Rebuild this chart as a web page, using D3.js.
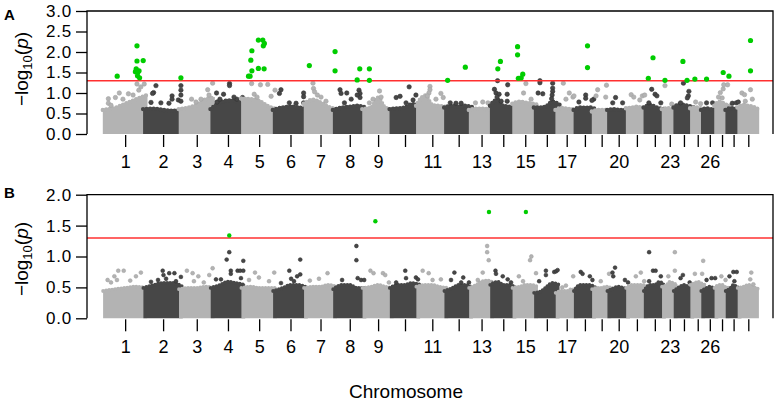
<!DOCTYPE html>
<html>
<head>
<meta charset="utf-8">
<script src="https://cdn.jsdelivr.net/npm/d3@7"></script>
<style>
  html, body { margin: 0; padding: 0; background: #fff; }
  svg { display: block; font-family: "Liberation Sans", Arial, sans-serif; }
</style>
</head>
<body>
<div id="chart"></div>
<script>
// chromosomes and their lengths (Mb)
const chromosomes = [1,2,3,4,5,6,7,8,9,10,11,12,13,14,15,16,17,18,19,20,21,22,23,24,25,26,27,28,29];
const chrLengths = [155,137,122,118,122,119,112,113,105,102,108,95,81,86,83,83,70,70,59,72,68,70,45,64,42,51,43,46,67];
const labeledChr = [1,2,3,4,5,6,7,8,9,11,13,15,17,20,23,26];

const threshold = 1.3;
const yTicksA = [0, 0.5, 1, 1.5, 2, 2.5, 3];
const yTicksB = [0, 0.5, 1, 1.5, 2];

// top of the dense SNP cloud, sampled evenly along each chromosome
const bulkA = [
  [0.6,0.65,0.75,0.85,0.97],[0.62,0.63,0.6,0.58,0.6],[0.62,0.66,0.72,0.85,0.9],[0.62,0.78,0.83,0.82,0.68],
  [0.88,0.86,0.82,0.7,0.62],[0.6,0.66,0.68,0.66,0.62],[0.75,0.85,0.78,0.68,0.62],[0.6,0.66,0.68,0.7,0.65],
  [0.62,0.66,0.9,0.66,0.6],[0.62,0.64,0.66,0.74,0.72],[0.7,0.95,0.72,0.7,0.66],[0.66,0.7,0.68,0.7,0.66],
  [0.6,0.63,0.63,0.62,0.6],[0.7,0.85,0.7,0.68,0.66],[0.75,0.8,0.78,0.76,0.72],[0.66,0.66,0.7,0.8,0.72],
  [0.6,0.65,0.63,0.62,0.6],[0.6,0.66,0.65,0.66,0.62],[0.56,0.6,0.6,0.6,0.58],[0.6,0.62,0.6,0.6,0.58],
  [0.64,0.66,0.68,0.66,0.64],[0.66,0.72,0.68,0.64,0.62],[0.62,0.64,0.64,0.6,0.6],[0.66,0.74,0.72,0.7,0.66],
  [0.64,0.66,0.66,0.64,0.62],[0.6,0.64,0.62,0.62,0.58],[0.7,0.8,0.78,0.74,0.7],[0.6,0.64,0.64,0.62,0.6],
  [0.66,0.72,0.7,0.68,0.6]
];
const bulkB = [
  [0.45,0.48,0.5,0.52,0.5],[0.5,0.55,0.58,0.58,0.52],[0.48,0.5,0.5,0.52,0.5],[0.5,0.55,0.6,0.58,0.55],
  [0.5,0.52,0.5,0.5,0.5],[0.45,0.5,0.55,0.55,0.5],[0.5,0.52,0.52,0.55,0.52],[0.48,0.55,0.55,0.5,0.5],
  [0.5,0.52,0.55,0.52,0.5],[0.5,0.55,0.55,0.58,0.55],[0.52,0.55,0.55,0.52,0.5],[0.45,0.5,0.55,0.55,0.5],
  [0.5,0.55,0.6,0.62,0.58],[0.55,0.6,0.55,0.55,0.5],[0.5,0.52,0.55,0.55,0.52],[0.42,0.45,0.52,0.58,0.55],
  [0.42,0.45,0.45,0.48,0.45],[0.45,0.55,0.55,0.55,0.5],[0.48,0.5,0.5,0.52,0.5],[0.45,0.5,0.52,0.5,0.48],
  [0.5,0.55,0.55,0.55,0.52],[0.45,0.55,0.55,0.6,0.5],[0.52,0.55,0.6,0.58,0.55],[0.45,0.52,0.55,0.52,0.48],
  [0.55,0.58,0.6,0.58,0.55],[0.45,0.5,0.52,0.5,0.48],[0.5,0.55,0.55,0.52,0.5],[0.45,0.5,0.55,0.52,0.48],
  [0.5,0.52,0.55,0.52,0.48]
];

// [chromosome, position (Mb), -log10(p)]
const grayA = [
  [1,13,0.86],[1,13,0.75],[1,40,0.89],[1,55,1.0],[1,90,0.98],[1,123,1.22],[1,130,1.07],[1,151,1.22],[1,138,1.15],[1,69,0.85],[1,108,0.95],[1,23,0.7],
  [2,41,1.18],[2,32,1.01],[2,28,0.99],[2,22,0.77],[2,103,0.93],[2,103,0.85],[2,127,0.83],[2,137,1.18],[2,137,1.07],[2,137,0.95],[2,137,0.8],[2,91,0.75],[2,60,0.76],
  [3,41,0.85],[3,103,1.08],[3,122,1.24],[3,108,0.95],[3,77,0.85],[3,58,0.78],
  [4,15,1.0],[4,17,0.78],[4,42,0.97],[4,65,1.23],[4,65,1.18],[4,115,0.89],[4,93,0.85],[4,82,0.9],[4,28,0.85],
  [5,32,1.23],[5,42,0.97],[5,66,1.2],[5,94,1.21],[5,122,1.07],[5,53,0.9],[5,107,0.92],
  [6,23,1.08],[6,17,0.99],[6,55,0.76],[6,110,1.0],[6,110,0.91],[6,110,0.76],[6,81,0.75],
  [7,27,1.24],[7,29,1.11],[7,33,1.03],[7,44,0.95],[7,58,0.9],[7,77,0.8],
  [8,19,1.08],[8,23,0.99],[8,45,1.0],[8,36,0.76],[8,92,1.07],[8,96,0.99],[8,96,0.89],[8,85,0.95],[8,62,0.85],
  [9,58,1.05],[9,19,0.76],[9,64,0.9],[9,33,0.85],
  [10,67,1.15],[10,17,0.89],[10,32,0.92],[10,55,0.76],[10,93,0.95],[10,82,0.83],
  [11,45,1.16],[11,45,1.08],[11,41,1.0],[11,35,0.93],[11,87,0.99],[11,96,0.89],[11,68,0.85],
  [12,15,0.76],[12,37,0.75],[12,57,0.75],
  [13,17,0.76],[13,45,0.78],[13,65,0.76],
  [14,21,1.3],[14,9,1.09],[14,15,1.0],[14,27,0.97],[14,19,0.9],[14,60,1.2],[14,58,0.97],[14,58,0.8],[14,35,0.8],
  [15,44,1.23],[15,35,1.0],[15,64,0.85],
  [16,15,1.3],[16,15,1.25],[16,8,1.0],[16,26,0.98],[16,64,1.24],[16,64,1.12],[16,64,1.04],[16,62,0.95],[16,60,0.86],
  [17,22,1.24],[17,45,1.0],[17,32,0.85],[17,59,0.9],[17,63,0.93],
  [18,38,0.95],[18,38,0.87],[18,69,0.85],[18,62,0.82],[18,12,0.78],
  [19,14,1.08],[19,48,1.19],[19,45,0.9],[19,8,0.93],
  [20,24,0.89],[20,13,0.76],[20,51,0.76],
  [21,12,0.96],[21,22,0.9],[21,55,0.93],[21,64,0.95],[21,45,0.83],
  [22,23,1.09],[22,36,0.97],[22,43,0.93],[22,12,0.76],[22,58,0.76],
  [23,4,1.18],[23,30,0.73],
  [24,30,1.24],[24,51,1.04],[24,49,0.93],[24,45,0.88],[24,19,0.76],
  [25,13,0.78],[25,32,0.74],
  [26,13,0.76],[26,36,0.76],
  [27,15,1.01],[27,26,1.1],[27,28,1.2],[27,22,0.88],[27,8,0.9],[27,43,1.2],
  [28,18,0.75],[28,33,0.76],[28,41,0.78],
  [29,9,1.0],[29,19,0.96],[29,42,1.08],[29,22,0.8],[29,49,0.85]
];
const sigA = [
  [1,47,1.41],[1,123,2.15],[1,123,1.78],[1,147,1.79],[1,120,1.59],[1,131,1.54],[1,117,1.52],[1,125,1.42],[1,133,1.37],[1,126,1.5],
  [2,137,1.37],
  [5,20,1.41],[5,26,1.41],[5,33,1.54],[5,29,1.8],[5,33,2.03],[5,58,2.29],[5,75,2.29],[5,81,2.21],[5,77,2.15],[5,58,1.6],[5,80,1.59],
  [7,13,1.67],
  [8,0,2.01],[8,0,1.54],[8,85,1.32],[8,95,1.59],
  [9,19,1.59],[9,19,1.31],
  [12,5,1.31],[12,73,1.63],
  [14,22,1.59],[14,32,1.77],
  [15,12,2.13],[15,12,1.93],[15,15,1.36],[15,26,1.37],[15,32,1.46],
  [18,45,2.15],[18,45,1.62],
  [22,10,1.36],[22,28,1.86],
  [23,4,1.31],
  [24,28,1.77],[24,44,1.31],
  [25,10,1.34],
  [26,13,1.34],
  [27,26,1.5],
  [28,5,1.41],
  [29,42,2.28],[29,42,1.54]
];

const grayB = [
  [1,10,0.62],[1,36,0.68],[1,51,0.77],[1,72,0.77],[1,97,0.61],[1,119,0.68],[1,138,0.74],[1,46,0.62],[1,23,0.58],
  [2,22,0.59],[2,67,0.77],[2,70,0.7],[2,92,0.73],[2,112,0.73],[2,137,0.67],[2,49,0.62],[2,118,0.6],[2,80,0.64],
  [3,23,0.77],[3,45,0.73],[3,67,0.68],[3,109,0.7],[3,122,0.81],[3,50,0.6],[3,88,0.58],
  [4,64,1.07],[4,54,0.95],[4,118,0.93],[4,70,0.77],[4,70,0.72],[4,96,0.77],[4,106,0.77],[4,118,0.77],[4,13,0.63],[4,32,0.63],[4,109,0.65],
  [5,45,0.74],[5,22,0.62],[5,60,0.66],[5,119,0.74],[5,99,0.6],
  [6,23,0.57],[6,55,0.77],[6,97,0.95],[6,97,0.71],[6,62,0.64],[6,73,0.6],[6,85,0.68],
  [7,15,0.61],[7,50,0.64],[7,83,0.73],
  [8,82,1.17],[8,82,0.94],[8,87,0.65],[8,100,0.62],[8,112,0.62],[8,27,0.62],
  [9,23,0.77],[9,35,0.73],[9,71,0.73],[9,80,0.7],[9,94,0.58],
  [10,52,0.77],[10,55,0.65],[10,93,0.66],[10,101,0.63],[10,17,0.58],
  [11,17,0.77],[11,40,0.73],[11,55,0.62],[11,87,0.63],
  [12,31,0.74],[12,65,0.66],[12,18,0.62],[12,57,0.58],[12,87,0.58],
  [13,62,1.17],[13,62,1.07],[13,68,0.94],[13,45,0.74],[13,26,0.62],
  [14,13,0.77],[14,15,0.72],[14,41,0.68],[14,60,0.63],[14,73,0.58],
  [15,17,0.68],[15,60,0.94],[15,65,1.0],[15,83,0.73],[15,33,0.6],
  [16,38,0.77],[16,38,0.7],[16,70,0.75],[16,77,0.76],[16,83,0.78],[16,12,0.6],
  [17,60,0.68],[17,32,0.53],[17,18,0.5],
  [18,19,0.75],[18,26,0.72],[18,54,0.68],[18,64,0.62],
  [19,58,0.72],[19,26,0.6],
  [20,12,0.74],[20,15,0.68],[20,22,0.82],[20,60,0.62],[20,72,0.58],
  [21,30,0.68],[21,49,0.74],[21,62,0.6],
  [22,13,1.07],[22,28,0.77],[22,38,0.77],[22,13,0.6],[22,58,0.68],
  [23,42,1.07],[23,42,0.77],[23,17,0.68],
  [24,28,0.7],[24,19,0.65],[24,54,0.58],
  [25,10,0.72],[25,42,0.93],[25,38,0.72],
  [26,13,0.62],[26,32,0.65],[26,46,0.65],
  [27,19,0.68],[27,35,0.62],
  [28,7,0.68],[28,22,0.75],[28,35,0.75],[28,26,0.6],
  [29,45,0.74],[29,41,0.63],[29,53,0.55]
];
const sigB = [[4,64,1.34],[9,42,1.57],[13,69,1.72],[15,44,1.72]];

const W = 778, H = 402;
const X_LEFT = 87, X_RIGHT = 773;
const LIGHT = "#b3b3b3", DARK = "#474747", GREEN = "#00cd00", RED = "#ff3030";

const cum = d3.cumsum(chrLengths);
const starts = chrLengths.map((_, i) => i ? cum[i - 1] : 0);
const total = cum[cum.length - 1];

const x = d3.scaleLinear().domain([0, total]).range([105, 757]);
const gx = (c, pos) => x(starts[c - 1] + pos);
const mids = chromosomes.map((c, i) => starts[i] + chrLengths[i] / 2);

const svg = d3.select("#chart").append("svg")
    .attr("width", W).attr("height", H);

const panels = [
    { id: "A", top: 11, bottom: 134, ymax: 3, ticks: yTicksA, bulk: bulkA, gray: grayA, sig: sigA,
      r: 2.2, sigR: 2.6, letterY: 20, ylabY: 69 },
    { id: "B", top: 194.7, bottom: 318.3, ymax: 2, ticks: yTicksB, bulk: bulkB, gray: grayB, sig: sigB,
      r: 1.9, sigR: 2.2, letterY: 198.3, ylabY: 259 }
];

panels.forEach(p => {
    const y = d3.scaleLinear().domain([0, p.ymax]).range([p.bottom, p.top]);
    const g = svg.append("g");

    // chromosome clouds, drawn in order so each one overlaps the previous
    chromosomes.forEach((c, i) => {
        const fill = c % 2 ? LIGHT : DARK;
        const stroke = c % 2 ? "#a2a2a2" : "#333";
        const prof = p.bulk[i];
        const n = prof.length;
        const pts = prof.map((h, j) => {
            let px = gx(c, chrLengths[i] * j / (n - 1));
            if (j === 0) px -= p.r;
            if (j === n - 1) px += p.r;
            return [px, h];
        });
        g.append("path")
            .datum(pts)
            .attr("d", d3.area().x(d => d[0]).y0(y(0)).y1(d => y(d[1])).curve(d3.curveMonotoneX))
            .style("fill", fill);

        // beaded top edge so the cloud reads as dots
        g.append("path")
            .datum(pts)
            .attr("d", d3.line().x(d => d[0]).y(d => y(d[1]) + 0.5).curve(d3.curveMonotoneX))
            .style("fill", "none")
            .style("stroke", fill)
            .style("stroke-width", p.r * 2)
            .style("stroke-linecap", "round")
            .style("stroke-dasharray", `0 ${p.r * 1.6}`);

        g.selectAll(null)
            .data(p.gray.filter(d => d[0] === c))
            .join("circle")
            .attr("cx", d => gx(d[0], d[1]))
            .attr("cy", d => y(d[2]))
            .attr("r", p.r)
            .style("fill", fill)
            .style("stroke", stroke)
            .style("stroke-width", 0.6);
    });

    // significance threshold
    g.append("line")
        .attr("x1", X_LEFT).attr("x2", X_RIGHT)
        .attr("y1", y(threshold)).attr("y2", y(threshold))
        .style("stroke", RED).style("stroke-width", 1.6);

    g.selectAll(null)
        .data(p.sig)
        .join("circle")
        .attr("cx", d => gx(d[0], d[1]))
        .attr("cy", d => y(d[2]))
        .attr("r", p.sigR)
        .style("fill", GREEN);

    // frame: left, top, right
    g.append("path")
        .attr("d", `M${X_LEFT},${y(0)}V${p.top}H${X_RIGHT}V${y(0)}`)
        .style("fill", "none").style("stroke", "#000").style("stroke-width", 1.3);

    const yAxis = d3.axisLeft(y).tickValues(p.ticks).tickSize(11).tickPadding(4)
        .tickFormat(d3.format(".1f"));
    g.append("g")
        .attr("transform", `translate(${X_LEFT},0)`)
        .call(yAxis)
        .call(a => a.select(".domain").remove())
        .call(a => a.selectAll("line").style("stroke", "#000").style("stroke-width", 1.3))
        .call(a => a.selectAll("text").style("font-size", "17px").style("fill", "#000")
            .style("letter-spacing", "0.8px")
            .style("font-family", "'Liberation Sans', Arial, sans-serif"));

    const xAxis = d3.axisBottom(x).tickValues(mids).tickSize(12).tickPadding(8.5)
        .tickFormat((d, i) => labeledChr.includes(chromosomes[i]) ? chromosomes[i] : "");
    g.append("g")
        .attr("transform", `translate(0,${y(0) + 1})`)
        .call(xAxis)
        .call(a => a.select(".domain").remove())
        .call(a => a.selectAll("line").style("stroke", "#000").style("stroke-width", 1.3))
        .call(a => a.selectAll("text").style("font-size", "18px").style("fill", "#000")
            .style("font-family", "'Liberation Sans', Arial, sans-serif"));

    svg.append("text")
        .attr("x", 4).attr("y", p.letterY)
        .style("font-size", "15px").style("font-weight", "bold")
        .text(p.id);

    const lab = svg.append("text")
        .attr("transform", `translate(28,${p.ylabY}) rotate(-90)`)
        .attr("text-anchor", "middle")
        .style("font-size", "19px");
    lab.append("tspan").text("\u2212log");
    lab.append("tspan").attr("dy", 4).style("font-size", "13px").text("10");
    lab.append("tspan").attr("dy", -4).text("(");
    lab.append("tspan").style("font-style", "italic").text("p");
    lab.append("tspan").text(")");
});

svg.append("text")
    .attr("x", 406).attr("y", 398)
    .attr("text-anchor", "middle")
    .style("font-size", "19px")
    .text("Chromosome");
</script>
</body>
</html>
